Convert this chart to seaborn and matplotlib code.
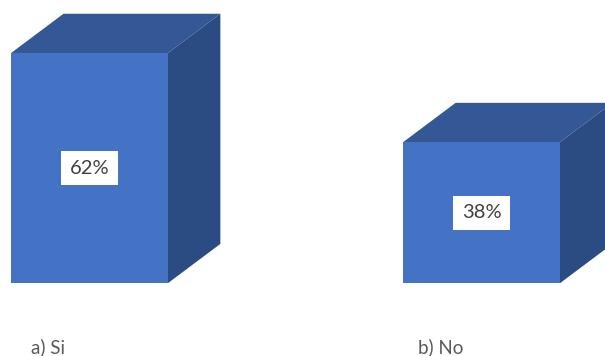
import matplotlib
matplotlib.use("Agg")
import matplotlib.pyplot as plt
import seaborn as sns
import pandas as pd
from matplotlib.patches import Polygon

categories = ["a) Si", "b) No"]
values = [62, 38]
value_labels = ["62%", "38%"]

sns.set_theme(style="white")
plt.rcParams['font.family'] = ['Lato', 'DejaVu Sans']

FRONT = "#4472C4"
TOP = "#335895"
SIDE = "#2B4B83"

df = pd.DataFrame({"cat": categories, "val": values})

fig = plt.figure(figsize=(6.05, 3.56), dpi=100)
ax = fig.add_axes([0, 0, 1, 1])
sns.barplot(data=df, x="cat", y="val", color=FRONT, saturation=1, width=0.4, ax=ax, zorder=3)

ax.set_xlim(-0.228, 1.315)
ax.set_ylim(-19.6, 76.3)
ax.axis("off")

DX, DY = 0.134, 10.6
for i, p in enumerate(ax.patches):
    p.set_edgecolor("none")
    x0, w, h = p.get_x(), p.get_width(), p.get_height()
    top = Polygon([(x0, h), (x0 + w, h), (x0 + w + DX, h + DY), (x0 + DX, h + DY)],
                  closed=True, facecolor=TOP, edgecolor="none", zorder=2)
    side = Polygon([(x0 + w, 0), (x0 + w + DX, DY), (x0 + w + DX, h + DY), (x0 + w, h)],
                   closed=True, facecolor=SIDE, edgecolor="none", zorder=2)
    ax.add_patch(top)
    ax.add_patch(side)
    ax.text(x0 + w / 2, h / 2, value_labels[i], ha="center", va="center",
            fontsize=14.5, color="#404040", zorder=5,
            bbox=dict(boxstyle="square,pad=0.42", facecolor="white", edgecolor="none"))

for i, c in enumerate(categories):
    ax.text(i - 0.105, -17.3, c, ha="center", va="center", fontsize=13.5, color="#595959")

fig.savefig("out.png", dpi=100)
